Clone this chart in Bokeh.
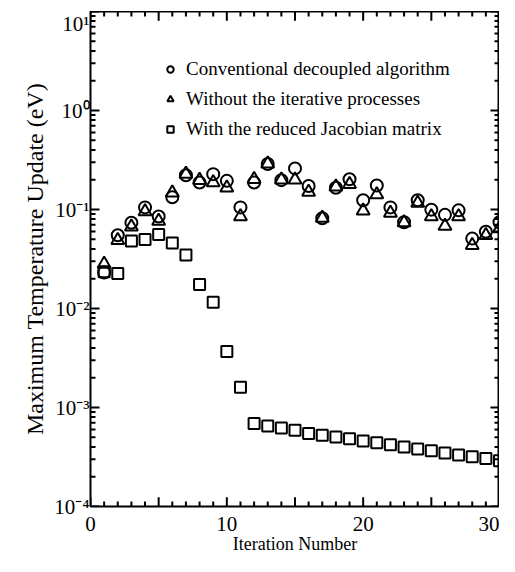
from bokeh.plotting import figure
from bokeh.models import (Range1d, SingleIntervalTicker, LogTicker,
                          CustomJSTickFormatter, Legend, LegendItem)
from bokeh.embed import file_html
from bokeh.resources import INLINE

iterations = list(range(1, 31))
conventional = [0.0231, 0.055, 0.0736, 0.105, 0.085, 0.133, 0.222, 0.187, 0.2276, 0.1946,
                0.105, 0.187, 0.288, 0.198, 0.26, 0.1725, 0.0817, 0.166, 0.202, 0.124,
                0.175, 0.105, 0.0743, 0.124, 0.0996, 0.0883, 0.098, 0.0508, 0.0596, 0.0743]
without_iter = [0.0281, 0.049, 0.067, 0.0955, 0.0767, 0.1476, 0.228, 0.198, 0.187, 0.166,
                0.085, 0.202, 0.29, 0.2, 0.2, 0.15, 0.082, 0.17, 0.18, 0.097,
                0.142, 0.092, 0.074, 0.116, 0.085, 0.068, 0.085, 0.0435, 0.055, 0.0644]
reduced_jacobian = [0.0235, 0.0226, 0.048, 0.0497, 0.0558, 0.046, 0.0348, 0.0175, 0.01156, 0.00367,
                    0.0016, 0.00069, 0.00065, 0.00062, 0.00059, 0.000546, 0.000525, 0.000504, 0.000484, 0.000458,
                    0.00044, 0.00042, 0.000398, 0.000382, 0.000365, 0.000348, 0.000331, 0.000318, 0.000306, 0.00029]
labels = ["Conventional decoupled algorithm", "Without the iterative processes",
          "With the reduced Jacobian matrix"]
x_title = "Iteration Number"
y_title = "Maximum Temperature Update (eV)"
x_min, x_max = 0, 30
decades = [-4, -3, -2, -1, 0, 1]

FONT = "Liberation Serif"
PX_PER_DECADE = 97.0   # frame height / 5 decades (style constant for tick lengths)
PX_PER_UNIT = 13.6     # frame width / 30 (style constant for tick lengths)

p = figure(width=480, height=545, y_axis_type="log",
           x_range=Range1d(x_min, x_max), y_range=Range1d(10.0 ** decades[0], 10.0 ** decades[-1]),
           output_backend="svg", toolbar_location=None,
           min_border_left=0, min_border_right=0, min_border_top=0, min_border_bottom=0)
p.margin = (11, 0, 0, 19)
p.grid.visible = False
p.outline_line_color = "black"
p.outline_line_width = 2
p.background_fill_color = "white"
p.border_fill_color = "white"

sup = CustomJSTickFormatter(code="""
const m = {'0':'\u2070','1':'\u00b9','2':'\u00b2','3':'\u00b3','4':'\u2074','5':'\u2075',
           '6':'\u2076','7':'\u2077','8':'\u2078','9':'\u2079','-':'\u207b'};
const e = Math.round(Math.log10(tick)).toString();
let s = '';
for (const c of e) s += m[c];
return '10' + s;
""")

def style(ax):
    ax.axis_line_color = None
    ax.major_tick_in = 0
    ax.major_tick_out = 0
    ax.minor_tick_in = 0
    ax.minor_tick_out = 0
    ax.major_tick_line_color = None
    ax.minor_tick_line_color = None
    ax.major_label_text_font = FONT
    ax.major_label_text_color = "black"
    ax.major_label_text_font_size = "21px"
    ax.axis_label_text_font = FONT
    ax.axis_label_text_font_style = "normal"
    ax.axis_label_text_color = "black"

xa = p.xaxis[0]
xa.ticker = SingleIntervalTicker(interval=10, num_minor_ticks=0)
xa.axis_label = x_title
xa.axis_label_text_font_size = "18px"
style(xa)
xa.major_label_standoff = 10
xa.axis_label_standoff = 0

ya = p.yaxis[0]
ya.ticker = LogTicker(num_minor_ticks=0)
ya.formatter = sup
ya.axis_label = y_title
ya.axis_label_text_font_size = "24px"
style(ya)
ya.major_label_standoff = 1
ya.axis_label_standoff = 3

# inward tick marks on all four sides, drawn as short segments
x_major = list(range(x_min, x_max + 1, 5))
x_minor = [v for v in range(x_min, x_max + 1) if v % 5]
y_major = [10.0 ** d for d in decades]
y_minor = [k * 10.0 ** d for d in decades[:-1] for k in range(2, 10)]
ylo, yhi = 10.0 ** decades[0], 10.0 ** decades[-1]
seg_kw = dict(line_color="black", line_width=2)
for xs, ln in ((x_major, 9), (x_minor, 5)):
    f = 10 ** (ln / PX_PER_DECADE)
    p.segment(x0=xs, y0=[ylo] * len(xs), x1=xs, y1=[ylo * f] * len(xs), **seg_kw)
    p.segment(x0=xs, y0=[yhi] * len(xs), x1=xs, y1=[yhi / f] * len(xs), **seg_kw)
for ys, ln in ((y_major, 9), (y_minor, 5)):
    d = ln / PX_PER_UNIT
    p.segment(x0=[x_min] * len(ys), y0=ys, x1=[x_min + d] * len(ys), y1=ys, **seg_kw)
    p.segment(x0=[x_max] * len(ys), y0=ys, x1=[x_max - d] * len(ys), y1=ys, **seg_kw)

r1 = p.scatter(iterations, conventional, marker="circle", size=12, fill_color=None,
               line_color="black", line_width=2)
r2 = p.scatter(iterations, without_iter, marker="triangle", size=13, fill_color=None,
               line_color="black", line_width=2)
r3 = p.scatter(iterations, reduced_jacobian, marker="square", size=11, fill_color=None,
               line_color="black", line_width=2)

leg = Legend(items=[LegendItem(label=labels[0], renderers=[r1]),
                    LegendItem(label=labels[1], renderers=[r2]),
                    LegendItem(label=labels[2], renderers=[r3])],
             location=(72, 366), border_line_color=None, background_fill_alpha=0,
             label_text_font=FONT, label_text_font_size="19px", label_text_color="black",
             glyph_width=16, glyph_height=20, label_height=20, spacing=8, padding=0,
             margin=0, label_standoff=8)
p.add_layout(leg, "center")

open("out.html", "w").write(file_html(p, INLINE))
